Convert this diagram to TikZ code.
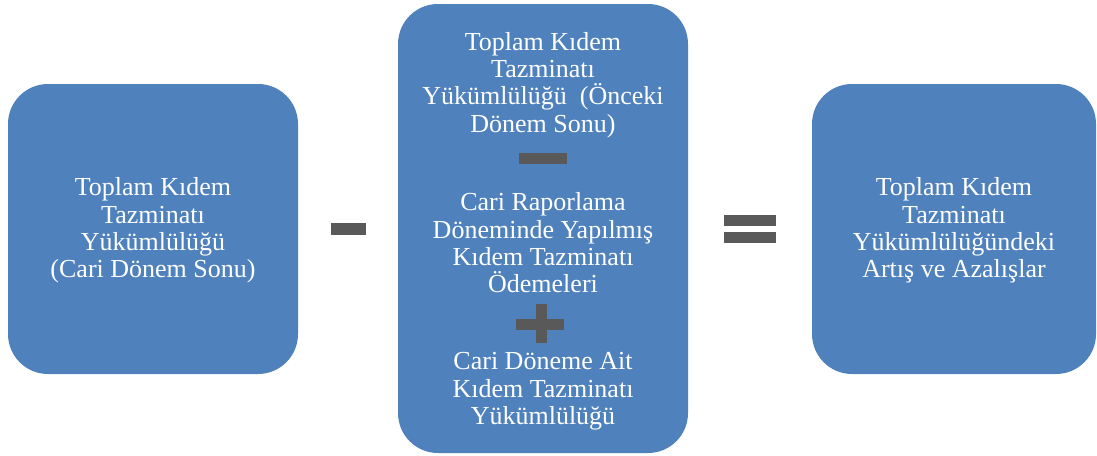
\documentclass[tikz,border=0pt]{standalone}
\usepackage{fontspec}
\setmainfont{Liberation Serif}
\definecolor{boxblue}{RGB}{79,129,189}
\definecolor{signgray}{RGB}{89,89,89}
\begin{document}
\begin{tikzpicture}[x=1pt,y=-1pt,
  txt/.style={text=white, align=center, inner sep=0pt, font=\fontsize{26}{27.4}\selectfont},
  box/.style={fill=boxblue, rounded corners=40pt},
  sign/.style={fill=signgray}]
\useasboundingbox (0,0) rectangle (1097,455);
% boxes
\node[box, minimum width=290pt, minimum height=290pt] (left) at (153,229) {};
\node[box, minimum width=290pt, minimum height=449pt] (mid) at (543,228.5) {};
\node[box, minimum width=284pt, minimum height=290pt] (right) at (954,229) {};
% box texts
\node[txt] (ltext) at (153,230.5) {Toplam Kıdem\\Tazminatı\\Yükümlülüğü\\(Cari Dönem Sonu)};
\node[txt] (rtext) at (954,230.5) {Toplam Kıdem\\Tazminatı\\Yükümlülüğündeki\\Artış ve Azalışlar};
\node[txt] (m1) at (543,84.9) {Toplam Kıdem\\Tazminatı\\Yükümlülüğü\hspace{13pt}(Önceki\\Dönem Sonu)};
\node[txt] (m2) at (543,242.9) {Cari Raporlama\\Döneminde Yapılmış\\Kıdem Tazminatı\\Ödemeleri};
\node[txt] (m3) at (543,391.4) {Cari Döneme Ait\\Kıdem Tazminatı\\Yükümlülüğü};
% signs
\fill[sign] (331,223) rectangle (366,235);
\fill[sign] (724,215) rectangle (776,226);
\fill[sign] (724,232) rectangle (776,243);
\fill[sign] (519,153) rectangle (567,164);
\fill[sign] (516,319) rectangle (564,330);
\fill[sign] (536,304) rectangle (547,343);
\end{tikzpicture}
\end{document}
